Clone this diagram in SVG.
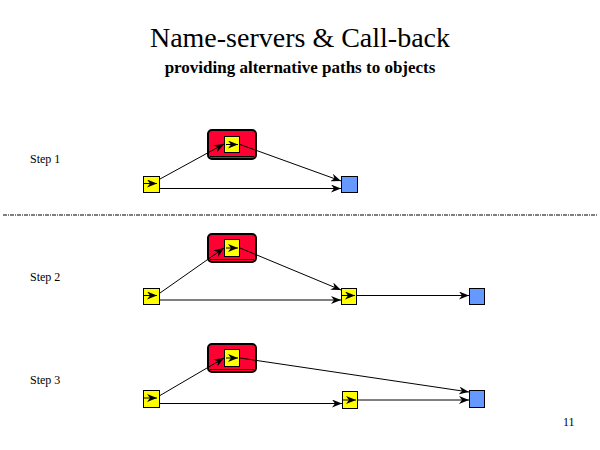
<svg xmlns="http://www.w3.org/2000/svg" width="600" height="450" viewBox="0 0 600 450">
<defs>
<marker id="ah" viewBox="0 0 10 8" refX="10" refY="4" markerWidth="10" markerHeight="8" markerUnits="userSpaceOnUse" orient="auto">
<path d="M0,0 L10,4 L0,8 L3,4 Z" fill="#000"/>
</marker>
</defs>
<style>
.t{font-family:"Liberation Serif","Times New Roman",serif;fill:#000}
.y{fill:#ffff00;stroke:#000;stroke-width:1}
.b{fill:#6699ff;stroke:#000;stroke-width:1}
.r{fill:#ff0033;stroke:#000;stroke-width:2}
.c{stroke:#000;stroke-width:1;fill:none;marker-end:url(#ah)}
</style>
<rect width="600" height="450" fill="#fff"/>
<text class="t" x="300" y="47" font-size="28" text-anchor="middle">Name-servers &amp; Call-back</text>
<text class="t" x="300" y="73" font-size="17" font-weight="bold" text-anchor="middle">providing alternative paths to objects</text>
<line x1="3" y1="215" x2="597" y2="215" stroke="#000" stroke-width="1" stroke-dasharray="4,1,1,1"/>
<text class="t" x="30" y="163" font-size="12">Step 1</text>
<text class="t" x="30" y="281" font-size="12">Step 2</text>
<text class="t" x="30" y="384" font-size="12">Step 3</text>
<text class="t" x="563" y="426" font-size="12">11</text>

<g id="s1-ns">
<rect class="r" x="208" y="130" width="48" height="29" rx="4"/>
<line x1="210" y1="156.5" x2="254" y2="156.5" stroke="#000" stroke-width="1"/>
<rect class="y" x="224.5" y="136.5" width="15" height="16"/>
</g>
<g id="s1-src"><rect class="y" x="143.5" y="176.5" width="16" height="16"/></g>
<g id="s1-obj"><rect class="b" x="341.5" y="176.5" width="16" height="16"/></g>

<g id="s2-ns">
<rect class="r" x="208" y="234" width="48" height="28" rx="4"/>
<line x1="210" y1="259.5" x2="254" y2="259.5" stroke="#000" stroke-width="1"/>
<rect class="y" x="224.5" y="239.5" width="15" height="17"/>
</g>
<g id="s2-src"><rect class="y" x="143.5" y="288.5" width="16" height="16"/></g>
<g id="s2-mid"><rect class="y" x="341.5" y="288.5" width="15" height="16"/></g>
<g id="s2-obj"><rect class="b" x="469.5" y="288.5" width="15" height="16"/></g>

<g id="s3-ns">
<rect class="r" x="208" y="344" width="48" height="28" rx="4"/>
<line x1="210" y1="369.5" x2="254" y2="369.5" stroke="#000" stroke-width="1"/>
<rect class="y" x="224.5" y="349.5" width="15" height="17"/>
</g>
<g id="s3-src"><rect class="y" x="143.5" y="390.5" width="16" height="17"/></g>
<g id="s3-mid"><rect class="y" x="342.5" y="391.5" width="15" height="17"/></g>
<g id="s3-obj"><rect class="b" x="469.5" y="390.5" width="15" height="17"/></g>

<g id="connectors">
<!-- step 1 -->
<line class="c" x1="143" y1="183.5" x2="157" y2="183.5"/>
<line class="c" x1="160" y1="179" x2="224" y2="144"/>
<line class="c" x1="226" y1="144.5" x2="238" y2="144.5"/>
<line class="c" x1="240" y1="144.5" x2="341" y2="181"/>
<line class="c" x1="160" y1="188.5" x2="341" y2="188.5"/>
<!-- step 2 -->
<line class="c" x1="143" y1="295.5" x2="157" y2="295.5"/>
<line class="c" x1="160" y1="293" x2="224" y2="248"/>
<line class="c" x1="226" y1="248" x2="238" y2="248"/>
<line class="c" x1="240" y1="248" x2="341" y2="290"/>
<line class="c" x1="160" y1="300" x2="341" y2="300"/>
<line class="c" x1="341" y1="295.5" x2="355" y2="295.5"/>
<line class="c" x1="357" y1="295.5" x2="469" y2="295.5"/>
<!-- step 3 -->
<line class="c" x1="143" y1="398" x2="157" y2="398"/>
<line class="c" x1="160" y1="395.5" x2="224" y2="358"/>
<line class="c" x1="226" y1="358" x2="238" y2="358"/>
<line class="c" x1="240" y1="358" x2="469" y2="392"/>
<line class="c" x1="160" y1="403.5" x2="342" y2="403.5"/>
<line class="c" x1="342" y1="400" x2="356" y2="400"/>
<line class="c" x1="358" y1="400" x2="469" y2="400"/>
</g>
</svg>
